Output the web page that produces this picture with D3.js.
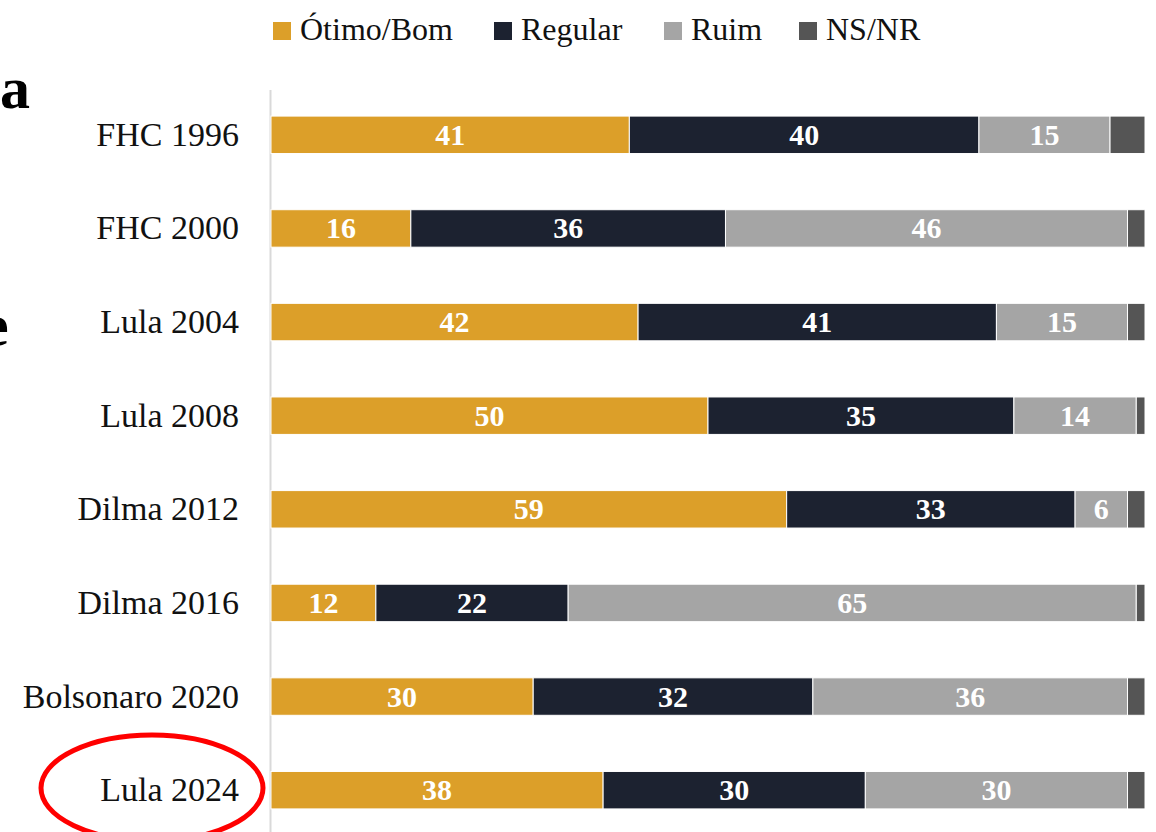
<!DOCTYPE html>
<html>
<head>
<meta charset="utf-8">
<script src="https://cdn.jsdelivr.net/npm/d3@7"></script>
<style>
  body { margin: 0; background: #fff; }
  svg { font-family: "Liberation Serif", "DejaVu Serif", serif; }
</style>
</head>
<body>
<svg id="chart" width="1156" height="832"></svg>
<script>
var categories = ['FHC 1996', 'FHC 2000', 'Lula 2004', 'Lula 2008', 'Dilma 2012', 'Dilma 2016', 'Bolsonaro 2020', 'Lula 2024'];
var seriesNames = ['Ótimo/Bom', 'Regular', 'Ruim', 'NS/NR'];
var otimoBom = [41, 16, 42, 50, 59, 12, 30, 38];
var regular = [40, 36, 41, 35, 33, 22, 32, 30];
var ruim = [15, 46, 15, 14, 6, 65, 36, 30];
var nsnr = [4, 2, 2, 1, 2, 1, 2, 2];
var colors = ['#dc9f29', '#1c2230', '#a5a5a5', '#555555'];

var svg = d3.select('#chart');

var rows = categories.map(function(c, i) {
    return { cat: c, 'Ótimo/Bom': otimoBom[i], 'Regular': regular[i], 'Ruim': ruim[i], 'NS/NR': nsnr[i] };
});

var stack = d3.stack().keys(seriesNames)(rows);

var x = d3.scaleLinear().domain([0, 100]).range([271, 1145]);
var y = d3.scaleBand().domain(categories).range([88, 837]).paddingInner(0.6).paddingOuter(0.3);

// cropped title letters on the left
svg.append('text').attr('x', 0).attr('y', 108)
    .attr('font-size', 60).attr('font-weight', 'bold').text('a');
svg.append('text').attr('x', -18).attr('y', 345)
    .attr('font-size', 60).attr('font-weight', 'bold').text('e');

// axis line
svg.append('line')
    .attr('x1', 270.5).attr('x2', 270.5)
    .attr('y1', 90).attr('y2', 832)
    .attr('stroke', '#d9d9d9').attr('stroke-width', 2);

var groups = svg.selectAll('g.series')
    .data(stack)
    .enter().append('g')
    .attr('class', 'series')
    .attr('fill', function(d, i) { return colors[i]; });

groups.selectAll('rect')
    .data(function(d) { return d; })
    .enter().append('rect')
    .attr('x', function(d) { return x(d[0]); })
    .attr('width', function(d) { return x(d[1]) - x(d[0]); })
    .attr('y', function(d) { return y(d.data.cat); })
    .attr('height', y.bandwidth())
    .attr('stroke', '#fff')
    .attr('stroke-width', 1);

// value labels (not for NS/NR)
groups.filter(function(d, i) { return i < 3; })
    .selectAll('text')
    .data(function(d) { return d; })
    .enter().append('text')
    .attr('x', function(d) { return (x(d[0]) + x(d[1])) / 2; })
    .attr('y', function(d) { return y(d.data.cat) + y.bandwidth() / 2 + 10; })
    .attr('text-anchor', 'middle')
    .attr('fill', '#fff')
    .attr('font-weight', 'bold')
    .attr('font-size', 30)
    .text(function(d) { return d[1] - d[0]; });

// category labels
svg.selectAll('text.cat')
    .data(categories)
    .enter().append('text')
    .attr('class', 'cat')
    .attr('x', 239)
    .attr('y', function(d) { return y(d) + y.bandwidth() / 2 + 11; })
    .attr('text-anchor', 'end')
    .attr('font-size', 34)
    .attr('fill', '#111')
    .text(function(d) { return d; });

// legend
var legendX = [273, 494, 664, 799];
var legend = svg.selectAll('g.legend')
    .data(seriesNames)
    .enter().append('g')
    .attr('class', 'legend')
    .attr('transform', function(d, i) { return 'translate(' + legendX[i] + ',0)'; });
legend.append('rect')
    .attr('x', 0).attr('y', 22).attr('width', 18).attr('height', 18)
    .attr('fill', function(d, i) { return colors[i]; });
legend.append('text')
    .attr('x', 27).attr('y', 40)
    .attr('font-size', 32)
    .attr('fill', '#111')
    .text(function(d) { return d; });

// red highlight ellipse
svg.append('ellipse')
    .attr('cx', 152).attr('cy', 788)
    .attr('rx', 111).attr('ry', 53)
    .attr('fill', 'none')
    .attr('stroke', '#f00')
    .attr('stroke-width', 5);
</script>
</body>
</html>
